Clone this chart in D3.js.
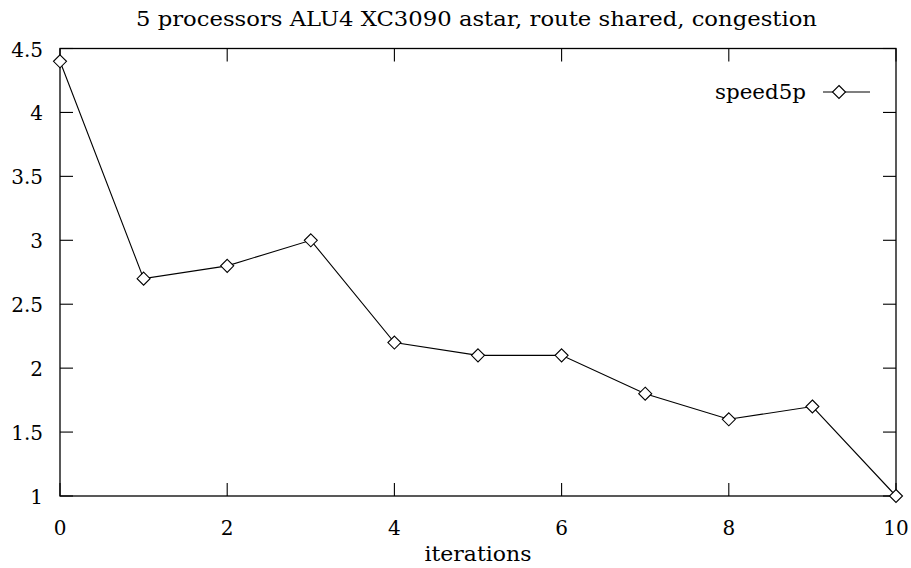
<!DOCTYPE html>
<html>
<head>
<meta charset="utf-8">
<script src="https://cdn.jsdelivr.net/npm/d3@7"></script>
<style>
body { margin: 0; background: #fff; }
svg text { font-family: "DejaVu Serif", serif; }
</style>
</head>
<body>
<svg id="chart" width="911" height="568"></svg>
<script>
// data
var iterations = [0, 1, 2, 3, 4, 5, 6, 7, 8, 9, 10];
var speed5p = [4.4, 2.7, 2.8, 3.0, 2.2, 2.1, 2.1, 1.8, 1.6, 1.7, 1.0];
var xTicks = [0, 2, 4, 6, 8, 10];
var yTicks = [1, 1.5, 2, 2.5, 3, 3.5, 4, 4.5];
var seriesName = "speed5p";
var title = "5 processors ALU4 XC3090 astar, route shared, congestion";

var svg = d3.select("#chart"),
    pl = 60, pr = 896, pt = 48.5, pb = 496,
    tick = 13, fs = 20;

var x = d3.scaleLinear().domain([0, 10]).range([pl, pr]);
var y = d3.scaleLinear().domain([1, 4.5]).range([pb, pt]);

// frame
svg.append("rect")
    .attr("x", pl).attr("y", pt)
    .attr("width", pr - pl).attr("height", pb - pt)
    .attr("fill", "none").attr("stroke", "#000").attr("stroke-width", 1.3);

// ticks (inward, mirrored)
var g = svg.append("g").attr("stroke", "#000").attr("stroke-width", 1.1);
yTicks.forEach(function(v) {
  g.append("line").attr("x1", pl).attr("x2", pl + tick).attr("y1", y(v)).attr("y2", y(v));
  g.append("line").attr("x1", pr).attr("x2", pr - tick).attr("y1", y(v)).attr("y2", y(v));
});
xTicks.forEach(function(v) {
  g.append("line").attr("x1", x(v)).attr("x2", x(v)).attr("y1", pb).attr("y2", pb - tick);
  g.append("line").attr("x1", x(v)).attr("x2", x(v)).attr("y1", pt).attr("y2", pt + tick);
});

svg.selectAll(".ylab").data(yTicks).enter().append("text")
    .attr("x", pl - 17).attr("y", function(d) { return y(d) + 8; })
    .attr("text-anchor", "end").attr("font-size", fs)
    .text(function(d) { return d; });

svg.selectAll(".xlab").data(xTicks).enter().append("text")
    .attr("x", function(d) { return x(d); }).attr("y", pb + 39)
    .attr("text-anchor", "middle").attr("font-size", fs)
    .text(function(d) { return d; });

svg.append("text").attr("x", 478).attr("y", 561)
    .attr("text-anchor", "middle").attr("font-size", fs)
    .attr("textLength", 107).attr("lengthAdjust", "spacingAndGlyphs")
    .text("iterations");

svg.append("text").attr("x", 476.5).attr("y", 26)
    .attr("text-anchor", "middle").attr("font-size", fs)
    .attr("textLength", 681).attr("lengthAdjust", "spacingAndGlyphs")
    .text(title);

// series
var pts = iterations.map(function(d, i) { return [d, speed5p[i]]; });
var line = d3.line().x(function(d) { return x(d[0]); }).y(function(d) { return y(d[1]); });
svg.append("path").datum(pts).attr("d", line)
    .attr("fill", "none").attr("stroke", "#000").attr("stroke-width", 1.1);

var diamond = function(cx, cy) {
  var r = 6.5;
  return "M" + cx + "," + (cy - r) + "L" + (cx + r) + "," + cy + "L" + cx + "," + (cy + r) + "L" + (cx - r) + "," + cy + "Z";
};
svg.selectAll(".pt").data(pts).enter().append("path")
    .attr("d", function(d) { return diamond(x(d[0]), y(d[1])); })
    .attr("fill", "#fff").attr("stroke", "#000").attr("stroke-width", 1.1);

// legend
var ly = 92;
svg.append("text").attr("x", 806).attr("y", ly + 7).attr("text-anchor", "end")
    .attr("font-size", fs)
    .attr("textLength", 91).attr("lengthAdjust", "spacingAndGlyphs")
    .text(seriesName);
svg.append("line").attr("x1", 823).attr("x2", 870).attr("y1", ly).attr("y2", ly)
    .attr("stroke", "#000").attr("stroke-width", 1.1);
svg.append("path").attr("d", diamond(839, ly))
    .attr("fill", "#fff").attr("stroke", "#000").attr("stroke-width", 1.1);
</script>
</body>
</html>
